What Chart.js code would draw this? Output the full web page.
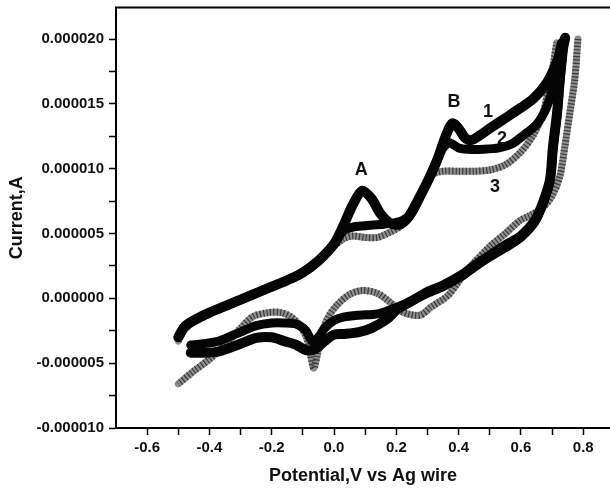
<!DOCTYPE html>
<html><head><meta charset="utf-8">
<script src="https://cdn.jsdelivr.net/npm/chart.js@4/dist/chart.umd.min.js"></script>
<style>html,body{margin:0;padding:0;background:#fff;}canvas{display:block;}</style>
</head><body>
<canvas id="c" width="610" height="489"></canvas>
<script>
// Potential (V vs Ag wire) and current (in microamps; axis labels show amperes)
// Curve 1 (full scan: forward then reverse)
const c1x = [-0.50,-0.48,-0.45,-0.40,-0.35,-0.30,-0.25,-0.20,-0.15,-0.10,-0.05,0.00,
  0.03,0.06,0.09,0.12,0.15,0.18,0.21,0.24,0.27,0.30,0.33,0.36,0.38,0.40,0.42,0.44,0.47,0.50,0.55,0.60,0.64,0.68,0.71,0.73,0.742,
  0.735,0.725,0.716,0.703,0.693,0.671,0.645,0.60,0.55,0.50,0.45,0.41,0.35,0.30,0.25,0.20,0.17,0.12,0.08,0.03,0.00,
  -0.03,-0.06,-0.09,-0.12,-0.16,-0.20,-0.25,-0.30,-0.37,-0.42,-0.46];
const c1y = [-3.0,-2.2,-1.7,-1.1,-0.6,-0.1,0.4,0.9,1.4,2.0,2.9,4.2,
  5.6,7.2,8.3,7.7,6.5,5.8,5.7,6.3,7.6,9.0,10.6,12.6,13.5,13.1,12.4,12.2,12.6,13.1,13.9,14.7,15.4,16.5,17.9,19.2,20.1,
  19.2,16.9,14.3,11.7,9.1,7.4,6.0,4.8,4.1,3.3,2.5,1.8,1.0,0.5,-0.2,-0.9,-1.6,-2.3,-2.6,-2.75,-2.8,
  -3.3,-3.9,-4.0,-3.6,-3.3,-3.0,-3.05,-3.5,-4.1,-4.2,-4.2];
// Curve 2
const c2x = [-0.50,-0.48,-0.45,-0.40,-0.35,-0.30,-0.25,-0.20,-0.15,-0.10,-0.05,0.00,
  0.03,0.06,0.10,0.15,0.19,0.22,0.25,0.28,0.31,0.33,0.35,0.37,0.40,0.43,0.48,0.53,0.57,0.61,0.65,0.68,0.70,0.715,0.73,
  0.735,0.725,0.716,0.703,0.693,0.671,0.645,0.60,0.55,0.50,0.45,0.41,0.35,0.30,0.25,0.20,0.14,0.08,0.03,0.00,
  -0.03,-0.05,-0.07,-0.09,-0.12,-0.16,-0.20,-0.25,-0.29,-0.33,-0.37,-0.42,-0.46];
const c2y = [-3.0,-2.2,-1.7,-1.1,-0.6,-0.1,0.4,0.9,1.4,2.0,2.9,4.2,
  5.2,5.5,5.6,5.7,5.8,6.0,6.6,8.0,9.5,10.6,11.6,12.0,11.6,11.5,11.5,11.6,11.9,12.6,13.4,14.6,16.0,17.8,19.7,
  19.4,16.7,14.1,11.5,9.0,7.3,5.9,4.7,3.9,3.2,2.4,1.7,0.9,0.4,-0.2,-0.7,-1.2,-1.3,-1.45,-1.7,
  -2.3,-3.0,-3.3,-2.5,-2.0,-1.9,-1.9,-2.1,-2.5,-2.9,-3.3,-3.5,-3.6];
// Curve 3, forward scan
const c3fx = [-0.50,-0.48,-0.45,-0.40,-0.35,-0.30,-0.25,-0.20,-0.15,-0.10,-0.05,0.00,
  0.03,0.06,0.10,0.14,0.18,0.21,0.24,0.27,0.30,0.32,0.35,0.40,0.45,0.50,0.55,0.60,0.64,0.67,0.69,0.705,0.715];
const c3fy = [-3.3,-2.4,-1.8,-1.2,-0.7,-0.2,0.3,0.8,1.3,1.9,2.8,4.0,
  4.6,4.8,4.7,4.7,5.1,5.5,6.2,7.5,9.0,9.6,9.8,9.8,9.8,9.9,10.3,11.3,12.6,14.2,16.3,18.2,19.7];
// Curve 3, reverse scan
const c3rx = [0.783,0.773,0.757,0.741,0.725,0.70,0.67,0.63,0.597,0.55,0.50,0.44,0.40,0.365,0.31,0.276,0.22,0.18,0.138,0.09,0.05,0.01,
  -0.02,-0.04,-0.055,-0.065,-0.075,-0.087,-0.11,-0.14,-0.17,-0.21,-0.26,-0.30,-0.35,-0.40,-0.45,-0.50];
const c3ry = [20.0,16.9,14.3,11.7,9.4,7.9,7.0,6.4,6.0,5.0,4.0,2.5,1.3,0.2,-0.7,-1.3,-1.05,-0.3,0.4,0.6,0.3,-0.5,
  -1.5,-2.8,-4.5,-5.4,-4.4,-3.1,-2.1,-1.4,-1.1,-1.1,-1.4,-2.3,-3.6,-4.7,-5.6,-6.6];

// In-plot annotations (text and anchor in data units)
const noteText = ['A', 'B', '1', '2', '3'];
const noteX = [0.087, 0.385, 0.494, 0.539, 0.517];
const noteY = [10.0, 15.2, 14.45, 12.4, 8.65];

const xTitle = 'Potential,V vs Ag wire';
const yTitle = 'Current,A';

const FONT = '"Liberation Sans", Arial, Helvetica, sans-serif';
function pts(xs, ys) { return xs.map((x, i) => ({ x: x, y: ys[i] })); }

const frameAndNotes = {
  id: 'frameAndNotes',
  afterDraw(chart) {
    const { ctx, chartArea: a, scales } = chart;
    ctx.save();
    ctx.strokeStyle = '#000';
    ctx.lineWidth = 2;
    ctx.beginPath();
    ctx.moveTo(a.left - 1, a.top);
    ctx.lineTo(a.right, a.top);
    ctx.stroke();
    ctx.fillStyle = '#111';
    ctx.font = 'bold 18px ' + FONT;
    ctx.textAlign = 'center';
    ctx.textBaseline = 'middle';
    noteText.forEach((t, i) => {
      ctx.fillText(t, scales.x.getPixelForValue(noteX[i]), scales.y.getPixelForValue(noteY[i]) + 1);
    });
    ctx.restore();
  }
};

const blackLine = (xs, ys, w, ord) => ({
  data: pts(xs, ys), showLine: true, borderColor: '#050505', borderWidth: w,
  pointRadius: 0, borderJoinStyle: 'round', borderCapStyle: 'round', order: ord, tension: 0.3
});
const grayBase = (xs, ys, ord) => ({
  data: pts(xs, ys), showLine: true, borderColor: '#8e8e8e', borderWidth: 7,
  pointRadius: 0, borderJoinStyle: 'round', borderCapStyle: 'round', order: ord, tension: 0.3
});
const grayHatch = (xs, ys, ord) => ({
  data: pts(xs, ys), showLine: true, borderColor: '#3a3a3a', borderWidth: 7,
  borderDash: [1.2, 2.2], pointRadius: 0, order: ord, tension: 0.3
});

new Chart(document.getElementById('c'), {
  type: 'scatter',
  data: {
    datasets: [
      blackLine(c1x, c1y, 10, 1),
      blackLine(c2x, c2y, 9, 2),
      grayHatch(c3fx, c3fy, 3),
      grayHatch(c3rx, c3ry, 3),
      grayBase(c3fx, c3fy, 4),
      grayBase(c3rx, c3ry, 4)
    ]
  },
  options: {
    responsive: false,
    animation: false,
    devicePixelRatio: 1,
    layout: { padding: { top: 7.5, left: 0, right: 0, bottom: 0 } },
    plugins: { legend: { display: false }, tooltip: { enabled: false } },
    scales: {
      x: {
        type: 'linear', min: -0.70, max: 0.886,
        afterFit(s) { s.height = 61; s.paddingLeft = 0; s.paddingRight = 0; },
        ticks: {
          stepSize: 0.1, includeBounds: false, autoSkip: false, maxRotation: 0, minRotation: 0,
          padding: 4, color: '#111', font: { family: FONT, size: 15, weight: 'bold' },
          callback(v) { const k = Math.round(v * 10); return (k % 2 === 0) ? (k / 10).toFixed(1) : ''; }
        },
        grid: { display: true, drawOnChartArea: false, drawTicks: true, tickLength: 7, tickWidth: 1.5, color: '#000', tickColor: '#000' },
        border: { display: true, color: '#000', width: 2 },
        title: { display: true, text: xTitle, color: '#111', font: { family: FONT, size: 18, weight: 'bold' }, padding: { top: 0, bottom: 2 } }
      },
      y: {
        type: 'linear', min: -10, max: 22.43,
        afterFit(s) { s.width = 116; s.paddingTop = 0; s.paddingBottom = 0; },
        ticks: {
          stepSize: 2.5, includeBounds: false, autoSkip: false,
          padding: 5, color: '#111', font: { family: FONT, size: 15, weight: 'bold' },
          callback(v) { const k = Math.round(v * 10); return (k % 50 === 0) ? (k / 1e7).toFixed(6) : ''; }
        },
        grid: { display: true, drawOnChartArea: false, drawTicks: true, tickLength: 7, tickWidth: 1.5, color: '#000', tickColor: '#000' },
        border: { display: true, color: '#000', width: 2 },
        title: { display: true, text: yTitle, color: '#111', font: { family: FONT, size: 18, weight: 'bold' }, padding: { top: 6, bottom: 0 } }
      }
    }
  },
  plugins: [frameAndNotes]
});
</script>
</body></html>
